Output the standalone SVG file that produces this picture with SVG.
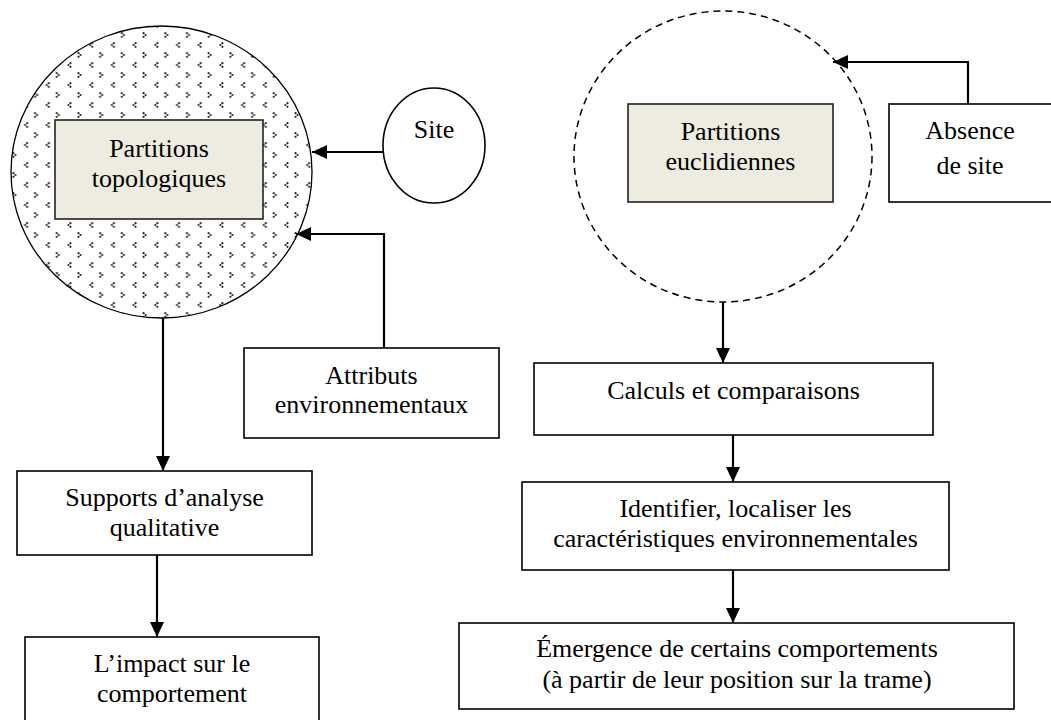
<svg xmlns="http://www.w3.org/2000/svg" width="1051" height="720" viewBox="0 0 1051 720">
<style>
text{font-family:'Liberation Serif','DejaVu Serif',serif;font-size:26px;fill:#000;text-anchor:middle}
.box{fill:#fff;stroke:#000;stroke-width:1.6}
.tan{fill:#EEECE1;stroke:#222;stroke-width:1.6}
.conn{fill:none;stroke:#000;stroke-width:2.2;marker-end:url(#ah)}
</style>
<defs>
<marker id="ah" viewBox="0 0 15 14" refX="15" refY="7" markerWidth="15" markerHeight="14" markerUnits="userSpaceOnUse" orient="auto">
<path d="M0,0 L15,7 L0,14 z" fill="#000"/>
</marker>
<pattern id="divot" patternUnits="userSpaceOnUse" x="2" y="2" width="21.7" height="20">
<g fill="#222">
<circle cx="3.4" cy="1.2" r="1.1"/><circle cx="1.4" cy="3" r="1.1"/><circle cx="3.4" cy="4.8" r="1.1"/>
<circle cx="11.4" cy="11.2" r="1.1"/><circle cx="13.4" cy="13" r="1.1"/><circle cx="11.4" cy="14.8" r="1.1"/>
</g>
</pattern>
</defs>
<rect width="1051" height="720" fill="#fff"/>

<g id="topo">
<ellipse cx="161.5" cy="172" rx="150.5" ry="146" fill="url(#divot)" stroke="#000" stroke-width="1.3"/>
<rect class="tan" x="55" y="120" width="208" height="99"/>
<text x="159" y="157" font-family="Liberation Serif, serif">Partitions</text>
<text x="159" y="187" font-family="Liberation Serif, serif">topologiques</text>
</g>

<g id="site">
<ellipse cx="434" cy="145.5" rx="51" ry="57.5" fill="#fff" stroke="#000" stroke-width="1.6"/>
<text x="434" y="138" font-family="Liberation Serif, serif">Site</text>
</g>

<g id="attributs">
<rect class="box" x="244" y="348" width="255" height="90"/>
<text x="371.5" y="384" font-family="Liberation Serif, serif">Attributs</text>
<text x="371.5" y="413" font-family="Liberation Serif, serif">environnementaux</text>
</g>

<g id="supports">
<rect class="box" x="17" y="471" width="295" height="84"/>
<text x="164.5" y="506" font-family="Liberation Serif, serif">Supports d’analyse</text>
<text x="164.5" y="536" font-family="Liberation Serif, serif">qualitative</text>
</g>

<g id="impact">
<rect class="box" x="25" y="637" width="294" height="86"/>
<text x="172" y="672" font-family="Liberation Serif, serif">L’impact sur le</text>
<text x="172" y="702" font-family="Liberation Serif, serif">comportement</text>
</g>

<g id="eucl">
<ellipse cx="723" cy="156.5" rx="149" ry="145.5" fill="none" stroke="#000" stroke-width="1.5" stroke-dasharray="7,5"/>
<rect class="tan" x="628" y="104" width="205" height="98"/>
<text x="730.5" y="140" font-family="Liberation Serif, serif">Partitions</text>
<text x="730.5" y="170" font-family="Liberation Serif, serif">euclidiennes</text>
</g>

<g id="absence">
<rect class="box" x="889" y="104" width="170" height="98"/>
<text x="970" y="139" font-family="Liberation Serif, serif">Absence</text>
<text x="970" y="174" font-family="Liberation Serif, serif">de site</text>
</g>

<g id="calculs">
<rect class="box" x="534" y="363" width="399" height="72"/>
<text x="733.5" y="399" font-family="Liberation Serif, serif">Calculs et comparaisons</text>
</g>

<g id="identifier">
<rect class="box" x="522" y="482" width="427" height="88"/>
<text x="735.5" y="517" font-family="Liberation Serif, serif">Identifier, localiser les</text>
<text x="735.5" y="547" font-family="Liberation Serif, serif">caractéristiques environnementales</text>
</g>

<g id="emergence">
<rect class="box" x="459" y="623" width="555" height="86"/>
<text x="737" y="657" font-family="Liberation Serif, serif">Émergence de certains comportements</text>
<text x="737" y="688" font-family="Liberation Serif, serif">(à partir de leur position sur la trame)</text>
</g>

<g id="connectors">
<path class="conn" d="M383,152 H312"/>
<path class="conn" d="M384,348 V234 H296"/>
<path class="conn" d="M163,318 V471"/>
<path class="conn" d="M157,555 V637"/>
<path class="conn" d="M968,104 V62 H833"/>
<path class="conn" d="M723,302 V363"/>
<path class="conn" d="M733,435 V482"/>
<path class="conn" d="M733,570 V623"/>
</g>
</svg>
